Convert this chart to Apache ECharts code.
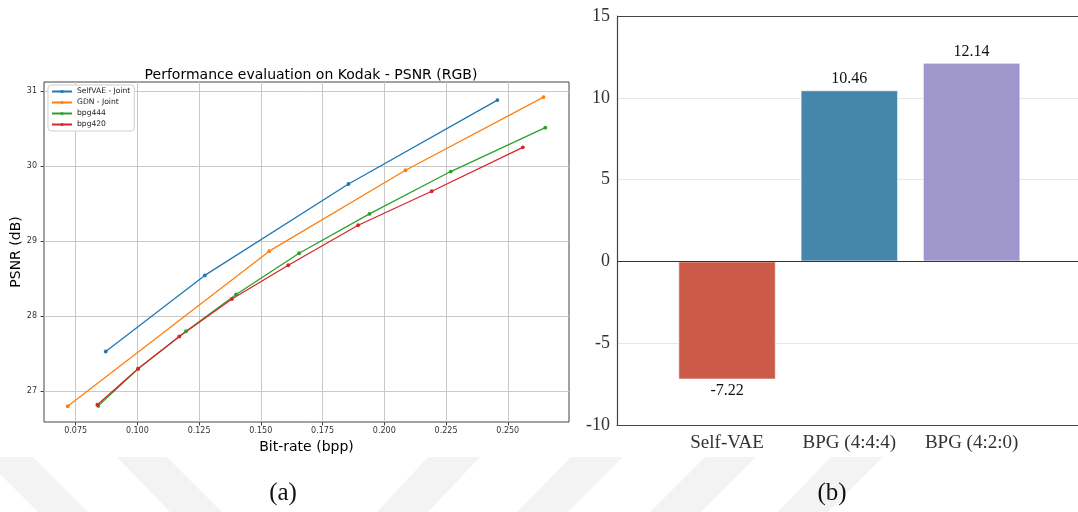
<!DOCTYPE html>
<html>
<head>
<meta charset="utf-8">
<script src="https://cdn.jsdelivr.net/npm/echarts@6/dist/echarts.min.js"></script>
<style>
  html, body { margin: 0; padding: 0; background: #fff; }
  #chart { width: 1078px; height: 512px; }
</style>
</head>
<body>
<div id="chart"></div>
<script>
// (a) rate-distortion curves on Kodak, [bit-rate (bpp), PSNR (dB)]
const selfVaeJoint = [[0.0872, 27.53], [0.1273, 28.545], [0.1855, 29.764], [0.2458, 30.883]];
const gdnJoint = [[0.0718, 26.80], [0.1534, 28.868], [0.2086, 29.947], [0.2645, 30.923]];
const bpg444 = [[0.0842, 26.805], [0.1003, 27.30], [0.1197, 27.80], [0.1400, 28.29],
  [0.1655, 28.84], [0.1940, 29.365], [0.2269, 29.93], [0.2652, 30.515]];
const bpg420 = [[0.0838, 26.82], [0.1003, 27.30], [0.1170, 27.73], [0.1383, 28.23],
  [0.1611, 28.68], [0.1894, 29.214], [0.2192, 29.667], [0.2561, 30.253]];
const rateTicks = [0.075, 0.1, 0.125, 0.15, 0.175, 0.2, 0.225, 0.25];
const psnrTicks = [27, 28, 29, 30, 31];

// (b) BD-rate
const methods = ['Self-VAE', 'BPG (4:4:4)', 'BPG (4:2:0)'];
const bdRate = [-7.22, 10.46, 12.14];
const barColors = ['#cc5a48', '#4586ab', '#9f97cb'];

const sans = 'DejaVu Sans';
const serif = 'Liberation Serif';

// watermark stripes at the bottom of the page (decoration only)
const stripes = [
  [-17, 33, 88, 38], [117, 167, 222, 170],
  [428, 480, 428, 377], [571, 623, 568, 517], [705, 756, 701, 650], [831, 883, 828, 778]
];

const chart = echarts.init(document.getElementById('chart'));

const lineSeries = (name, data, color) => ({
  type: 'line',
  name: name,
  data: data,
  xAxisIndex: 0,
  yAxisIndex: 0,
  symbol: 'circle',
  symbolSize: 3.8,
  lineStyle: { width: 1.3, color: color },
  itemStyle: { color: color },
});

const option = {
  animation: false,
  backgroundColor: '#fff',
  title: {
    text: 'Performance evaluation on Kodak - PSNR (RGB)',
    left: 306,
    top: 63,
    textAlign: 'center',
    textStyle: { fontFamily: sans, fontSize: 14, fontWeight: 'normal', color: '#000' },
  },
  legend: {
    orient: 'vertical',
    left: 48,
    top: 85,
    itemWidth: 20,
    itemHeight: 4,
    itemGap: 2,
    padding: [2, 4, 2, 3],
    borderColor: '#d0d0d0',
    borderWidth: 1,
    borderRadius: 3,
    backgroundColor: '#fff',
    textStyle: { fontFamily: sans, fontSize: 7.6, color: '#222', lineHeight: 9 },
    data: ['SelfVAE - Joint', 'GDN - Joint', 'bpg444', 'bpg420'],
  },
  grid: [
    { left: 44, top: 82, width: 525, height: 340, show: true, borderColor: '#444', borderWidth: 1 },
    { left: 617, top: 16, right: 0, height: 409 },
  ],
  xAxis: [
    {
      type: 'value',
      gridIndex: 0,
      min: 0.0622,
      max: 0.2748,
      name: 'Bit-rate (bpp)',
      nameLocation: 'middle',
      nameGap: 11,
      nameTextStyle: { fontFamily: sans, fontSize: 14, color: '#000' },
      axisLine: { show: false },
      axisTick: { show: true, inside: false, length: 3.5, customValues: rateTicks, lineStyle: { color: '#444' } },
      axisLabel: {
        customValues: rateTicks,
        margin: 5,
        fontFamily: sans,
        fontSize: 8,
        color: '#333',
        formatter: (v) => v.toFixed(3),
      },
      splitLine: { show: true, lineStyle: { color: '#c8c8c8', width: 1 } },
    },
    {
      type: 'value',
      gridIndex: 1,
      min: -0.9,
      max: 2.87,
      axisLine: { show: true, onZero: false, lineStyle: { color: '#444', width: 1.2 } },
      axisTick: { show: false, customValues: [0, 1, 2] },
      splitLine: { show: false },
      axisLabel: {
        customValues: [0, 1, 2],
        margin: 9,
        fontFamily: serif,
        fontSize: 19,
        color: '#333',
        formatter: (v) => methods[Math.round(v)],
      },
    },
  ],
  yAxis: [
    {
      type: 'value',
      gridIndex: 0,
      min: 26.59,
      max: 31.124,
      name: 'PSNR (dB)',
      nameLocation: 'middle',
      nameGap: 19.5,
      nameRotate: 90,
      nameTextStyle: { fontFamily: sans, fontSize: 14, color: '#000' },
      axisLine: { show: false },
      axisTick: { show: true, inside: false, length: 3.5, customValues: psnrTicks, lineStyle: { color: '#444' } },
      axisLabel: { customValues: psnrTicks, margin: 7, fontFamily: sans, fontSize: 8, color: '#333' },
      splitLine: { show: true, lineStyle: { color: '#c8c8c8', width: 1 } },
    },
    {
      type: 'value',
      gridIndex: 1,
      min: -10,
      max: 15,
      interval: 5,
      axisLine: { show: true, onZero: false, lineStyle: { color: '#444', width: 1.2 } },
      axisTick: { show: false },
      axisLabel: { margin: 7, fontFamily: serif, fontSize: 18, color: '#333' },
      splitLine: { show: true, lineStyle: { color: '#e6e6e6', width: 1 } },
    },
  ],
  series: [
    lineSeries('SelfVAE - Joint', selfVaeJoint, '#1f77b4'),
    lineSeries('GDN - Joint', gdnJoint, '#ff7f0e'),
    lineSeries('bpg444', bpg444, '#2ca02c'),
    lineSeries('bpg420', bpg420, '#d62728'),
    {
      type: 'bar',
      name: 'BD-rate',
      xAxisIndex: 1,
      yAxisIndex: 1,
      barWidth: 97.5,
      data: methods.map((m, i) => ({
        value: [i, bdRate[i]],
        itemStyle: { color: barColors[i] },
        label: { position: bdRate[i] < 0 ? 'bottom' : 'top' },
      })),
      itemStyle: { borderColor: 'rgba(255,255,255,0.6)', borderWidth: 1 },
      label: {
        show: true,
        distance: 3,
        fontFamily: serif,
        fontSize: 16,
        color: '#111',
        formatter: (p) => p.value[1].toFixed(2),
      },
      markLine: {
        silent: true,
        symbol: 'none',
        label: { show: false },
        lineStyle: { color: '#333', width: 1.2, type: 'solid' },
        data: [{ yAxis: 0 }, { yAxis: 15, lineStyle: { color: '#444' } }],
      },
    },
  ],
  graphic: [
    ...stripes.map((s) => ({
      type: 'polygon',
      silent: true,
      z: -10,
      shape: { points: [[s[0], 457], [s[1], 457], [s[2], 512], [s[3], 512]] },
      style: { fill: '#f3f3f3' },
    })),
    {
      type: 'text',
      silent: true,
      style: { text: '(a)', x: 283, y: 493, align: 'center', verticalAlign: 'middle', fontFamily: serif, fontSize: 25, fill: '#111' },
    },
    {
      type: 'text',
      silent: true,
      style: { text: '(b)', x: 832, y: 493, align: 'center', verticalAlign: 'middle', fontFamily: serif, fontSize: 25, fill: '#111' },
    },
  ],
};

chart.setOption(option);
</script>
</body>
</html>
